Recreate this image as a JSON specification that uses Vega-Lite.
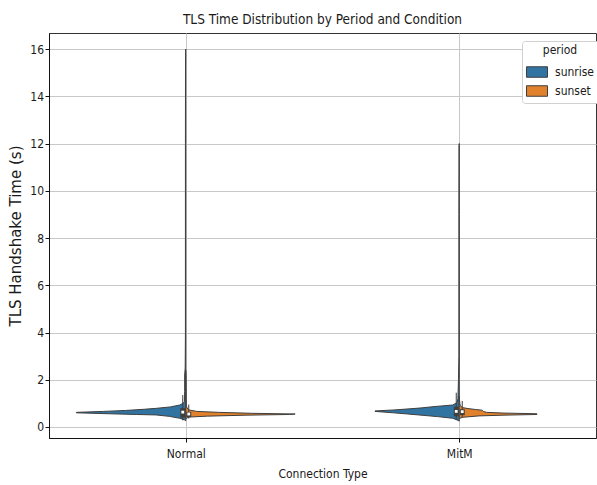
{
  "$schema": "https://vega.github.io/schema/vega-lite/v6.json",
  "width": 547,
  "height": 405,
  "autosize": {"type": "none"},
  "padding": {"left": 49, "top": 33, "right": 1, "bottom": 47},
  "background": "#ffffff",
  "title": {"text": "TLS Time Distribution by Period and Condition", "font": "DejaVu Sans Condensed, Liberation Sans", "fontSize": 13.5, "fontWeight": "normal", "color": "#1a1a1a", "offset": 7},
  "config": {
    "view": {"stroke": "#333333", "strokeWidth": 1},
    "axis": {"domainColor": "#111111", "tickColor": "#111111", "labelColor": "#1a1a1a", "titleColor": "#1a1a1a", "gridColor": "#c8c8c8", "gridWidth": 1, "tickSize": 4, "labelFont": "DejaVu Sans Condensed, Liberation Sans", "titleFont": "DejaVu Sans Condensed, Liberation Sans", "titleFontWeight": "normal", "labelFontSize": 12, "titleFontSize": 12},
    "axisY": {"labelPadding": 1.5, "titleFont": "DejaVu Sans", "titleFontSize": 15, "titlePadding": 6},
    "axisX": {"labelPadding": 6, "titlePadding": 9}
  },
  "datasets": {
    "density": [
      {"cond": "Normal", "period": "sunrise", "t": 0.26, "d": 0},
      {"cond": "Normal", "period": "sunrise", "t": 0.30, "d": 0.01},
      {"cond": "Normal", "period": "sunrise", "t": 0.37, "d": 0.055},
      {"cond": "Normal", "period": "sunrise", "t": 0.45, "d": 0.15},
      {"cond": "Normal", "period": "sunrise", "t": 0.51, "d": 0.27},
      {"cond": "Normal", "period": "sunrise", "t": 0.53, "d": 0.45},
      {"cond": "Normal", "period": "sunrise", "t": 0.56, "d": 0.7},
      {"cond": "Normal", "period": "sunrise", "t": 0.60, "d": 1.0},
      {"cond": "Normal", "period": "sunrise", "t": 0.62, "d": 1.0},
      {"cond": "Normal", "period": "sunrise", "t": 0.66, "d": 0.75},
      {"cond": "Normal", "period": "sunrise", "t": 0.70, "d": 0.55},
      {"cond": "Normal", "period": "sunrise", "t": 0.75, "d": 0.38},
      {"cond": "Normal", "period": "sunrise", "t": 0.79, "d": 0.27},
      {"cond": "Normal", "period": "sunrise", "t": 0.85, "d": 0.14},
      {"cond": "Normal", "period": "sunrise", "t": 0.93, "d": 0.055},
      {"cond": "Normal", "period": "sunrise", "t": 1.00, "d": 0.025},
      {"cond": "Normal", "period": "sunrise", "t": 1.07, "d": 0.012},
      {"cond": "Normal", "period": "sunrise", "t": 1.5, "d": 0.01},
      {"cond": "Normal", "period": "sunrise", "t": 2.2, "d": 0.01},
      {"cond": "Normal", "period": "sunrise", "t": 2.5, "d": 0.005},
      {"cond": "Normal", "period": "sunrise", "t": 4, "d": 0.003},
      {"cond": "Normal", "period": "sunrise", "t": 8, "d": 0.003},
      {"cond": "Normal", "period": "sunrise", "t": 12, "d": 0.003},
      {"cond": "Normal", "period": "sunrise", "t": 15.9, "d": 0.002},
      {"cond": "Normal", "period": "sunrise", "t": 16.0, "d": 0},
      {"cond": "Normal", "period": "sunset", "t": 0.36, "d": 0},
      {"cond": "Normal", "period": "sunset", "t": 0.42, "d": 0.03},
      {"cond": "Normal", "period": "sunset", "t": 0.46, "d": 0.2},
      {"cond": "Normal", "period": "sunset", "t": 0.50, "d": 0.55},
      {"cond": "Normal", "period": "sunset", "t": 0.53, "d": 0.95},
      {"cond": "Normal", "period": "sunset", "t": 0.55, "d": 1.0},
      {"cond": "Normal", "period": "sunset", "t": 0.58, "d": 0.6},
      {"cond": "Normal", "period": "sunset", "t": 0.62, "d": 0.3},
      {"cond": "Normal", "period": "sunset", "t": 0.66, "d": 0.1},
      {"cond": "Normal", "period": "sunset", "t": 0.72, "d": 0.03},
      {"cond": "Normal", "period": "sunset", "t": 0.80, "d": 0.012},
      {"cond": "Normal", "period": "sunset", "t": 0.9, "d": 0.006},
      {"cond": "Normal", "period": "sunset", "t": 1.2, "d": 0.004},
      {"cond": "Normal", "period": "sunset", "t": 2.0, "d": 0.003},
      {"cond": "Normal", "period": "sunset", "t": 2.4, "d": 0},
      {"cond": "MitM", "period": "sunrise", "t": 0.25, "d": 0},
      {"cond": "MitM", "period": "sunrise", "t": 0.30, "d": 0.02},
      {"cond": "MitM", "period": "sunrise", "t": 0.37, "d": 0.06},
      {"cond": "MitM", "period": "sunrise", "t": 0.44, "d": 0.2},
      {"cond": "MitM", "period": "sunrise", "t": 0.51, "d": 0.37},
      {"cond": "MitM", "period": "sunrise", "t": 0.55, "d": 0.47},
      {"cond": "MitM", "period": "sunrise", "t": 0.60, "d": 0.6},
      {"cond": "MitM", "period": "sunrise", "t": 0.66, "d": 0.77},
      {"cond": "MitM", "period": "sunrise", "t": 0.68, "d": 0.77},
      {"cond": "MitM", "period": "sunrise", "t": 0.72, "d": 0.6},
      {"cond": "MitM", "period": "sunrise", "t": 0.77, "d": 0.45},
      {"cond": "MitM", "period": "sunrise", "t": 0.81, "d": 0.34},
      {"cond": "MitM", "period": "sunrise", "t": 0.86, "d": 0.24},
      {"cond": "MitM", "period": "sunrise", "t": 0.93, "d": 0.06},
      {"cond": "MitM", "period": "sunrise", "t": 1.03, "d": 0.02},
      {"cond": "MitM", "period": "sunrise", "t": 1.2, "d": 0.012},
      {"cond": "MitM", "period": "sunrise", "t": 2.0, "d": 0.007},
      {"cond": "MitM", "period": "sunrise", "t": 3.0, "d": 0.003},
      {"cond": "MitM", "period": "sunrise", "t": 6, "d": 0.003},
      {"cond": "MitM", "period": "sunrise", "t": 9, "d": 0.003},
      {"cond": "MitM", "period": "sunrise", "t": 11.9, "d": 0.002},
      {"cond": "MitM", "period": "sunrise", "t": 12.0, "d": 0},
      {"cond": "MitM", "period": "sunset", "t": 0.36, "d": 0},
      {"cond": "MitM", "period": "sunset", "t": 0.41, "d": 0.03},
      {"cond": "MitM", "period": "sunset", "t": 0.47, "d": 0.18},
      {"cond": "MitM", "period": "sunset", "t": 0.50, "d": 0.4},
      {"cond": "MitM", "period": "sunset", "t": 0.53, "d": 0.71},
      {"cond": "MitM", "period": "sunset", "t": 0.56, "d": 0.71},
      {"cond": "MitM", "period": "sunset", "t": 0.59, "d": 0.4},
      {"cond": "MitM", "period": "sunset", "t": 0.62, "d": 0.25},
      {"cond": "MitM", "period": "sunset", "t": 0.66, "d": 0.22},
      {"cond": "MitM", "period": "sunset", "t": 0.71, "d": 0.21},
      {"cond": "MitM", "period": "sunset", "t": 0.74, "d": 0.15},
      {"cond": "MitM", "period": "sunset", "t": 0.78, "d": 0.08},
      {"cond": "MitM", "period": "sunset", "t": 0.82, "d": 0.03},
      {"cond": "MitM", "period": "sunset", "t": 0.9, "d": 0.01},
      {"cond": "MitM", "period": "sunset", "t": 1.0, "d": 0.005},
      {"cond": "MitM", "period": "sunset", "t": 1.3, "d": 0}
    ],
    "box": [
      {"cond": "Normal", "period": "sunrise", "q1": 0.40, "q3": 0.80, "med": 0.63, "wlo": 0.28, "whi": 1.35},
      {"cond": "Normal", "period": "sunset", "q1": 0.42, "q3": 0.64, "med": 0.55, "wlo": 0.36, "whi": 0.95},
      {"cond": "MitM", "period": "sunrise", "q1": 0.45, "q3": 0.86, "med": 0.66, "wlo": 0.30, "whi": 1.45},
      {"cond": "MitM", "period": "sunset", "q1": 0.50, "q3": 0.75, "med": 0.65, "wlo": 0.40, "whi": 1.10}
    ]
  },
  "layer": [
    {
      "data": {"name": "box"},
      "transform": [{"filter": "datum.period === 'sunrise'"}],
      "mark": {"type": "rule", "strokeWidth": 0, "opacity": 0},
      "encoding": {
        "x": {"field": "cond", "type": "nominal", "sort": ["Normal", "MitM"], "scale": {"type": "point", "domain": ["Normal", "MitM"], "padding": 0.5}, "axis": {"grid": true, "labelAngle": 0, "title": "Connection Type"}},
        "y": {"field": "wlo", "type": "quantitative", "scale": {"domain": [-0.466, 16.68], "nice": false, "zero": false}, "axis": {"values": [0, 2, 4, 6, 8, 10, 12, 14, 16], "grid": true, "title": "TLS Handshake Time (s)"}, "title": "TLS Handshake Time (s)"}
      }
    },
    {
      "data": {"name": "density"},
      "transform": [{"filter": "datum.cond === 'Normal' && datum.period === 'sunrise'"}],
      "mark": {"type": "area", "orient": "horizontal", "stroke": "#3f3f3f", "strokeWidth": 1, "strokeJoin": "round"},
      "encoding": {
        "y": {"field": "t", "type": "quantitative", "title": "TLS Handshake Time (s)"},
        "x": {"field": "d", "type": "quantitative", "scale": {"domain": [-3.75, 1.25], "reverse": true, "nice": false, "zero": false}, "axis": null},
        "x2": {"datum": 0},
        "color": {"field": "period", "type": "nominal", "scale": {"domain": ["sunrise", "sunset"], "range": ["#3274a1", "#e1812c"]}, "legend": {"title": "period", "orient": "none", "legendX": 473, "legendY": 8, "titleFont": "DejaVu Sans Condensed, Liberation Sans", "titleFontSize": 12, "titleFontWeight": "normal", "titleColor": "#1a1a1a", "titleAnchor": "middle", "titlePadding": 4, "labelFont": "DejaVu Sans Condensed, Liberation Sans", "labelFontSize": 12, "labelColor": "#1a1a1a", "labelOffset": 7, "fillColor": "#ffffff", "strokeColor": "#d0d0d0", "cornerRadius": 3, "padding": 4, "rowPadding": -1, "symbolType": "M-1,-0.5H1V0.5H-1Z", "symbolSize": 441, "symbolStrokeColor": "#3f3f3f", "symbolStrokeWidth": 1, "symbolOpacity": 1}}
      }
    },
    {
      "data": {"name": "density"},
      "transform": [{"filter": "datum.cond === 'Normal' && datum.period === 'sunset'"}],
      "mark": {"type": "area", "orient": "horizontal", "stroke": "#3f3f3f", "strokeWidth": 1, "strokeJoin": "round"},
      "encoding": {
        "y": {"field": "t", "type": "quantitative", "title": "TLS Handshake Time (s)"},
        "x": {"field": "d", "type": "quantitative", "scale": {"domain": [-1.25, 3.75], "nice": false, "zero": false}, "axis": null},
        "x2": {"datum": 0},
        "color": {"field": "period", "type": "nominal"}
      }
    },
    {
      "data": {"name": "density"},
      "transform": [{"filter": "datum.cond === 'MitM' && datum.period === 'sunrise'"}],
      "mark": {"type": "area", "orient": "horizontal", "stroke": "#3f3f3f", "strokeWidth": 1, "strokeJoin": "round"},
      "encoding": {
        "y": {"field": "t", "type": "quantitative", "title": "TLS Handshake Time (s)"},
        "x": {"field": "d", "type": "quantitative", "scale": {"domain": [-1.25, 3.75], "reverse": true, "nice": false, "zero": false}, "axis": null},
        "x2": {"datum": 0},
        "color": {"field": "period", "type": "nominal"}
      }
    },
    {
      "data": {"name": "density"},
      "transform": [{"filter": "datum.cond === 'MitM' && datum.period === 'sunset'"}],
      "mark": {"type": "area", "orient": "horizontal", "stroke": "#3f3f3f", "strokeWidth": 1, "strokeJoin": "round"},
      "encoding": {
        "y": {"field": "t", "type": "quantitative", "title": "TLS Handshake Time (s)"},
        "x": {"field": "d", "type": "quantitative", "scale": {"domain": [-3.75, 1.25], "nice": false, "zero": false}, "axis": null},
        "x2": {"datum": 0},
        "color": {"field": "period", "type": "nominal"}
      }
    },
    {
      "data": {"name": "box"},
      "transform": [{"filter": "datum.period === 'sunrise'"}],
      "mark": {"type": "rule", "color": "#3f3f3f", "strokeWidth": 1, "xOffset": -3},
      "encoding": {
        "x": {"field": "cond", "type": "nominal", "scale": {"type": "point", "domain": ["Normal", "MitM"], "padding": 0.5}, "axis": null},
        "y": {"field": "wlo", "type": "quantitative", "title": "TLS Handshake Time (s)"},
        "y2": {"field": "whi"}
      }
    },
    {
      "data": {"name": "box"},
      "transform": [{"filter": "datum.period === 'sunset'"}],
      "mark": {"type": "rule", "color": "#3f3f3f", "strokeWidth": 1, "xOffset": 3},
      "encoding": {
        "x": {"field": "cond", "type": "nominal", "scale": {"type": "point", "domain": ["Normal", "MitM"], "padding": 0.5}, "axis": null},
        "y": {"field": "wlo", "type": "quantitative", "title": "TLS Handshake Time (s)"},
        "y2": {"field": "whi"}
      }
    },
    {
      "data": {"name": "box"},
      "transform": [{"filter": "datum.period === 'sunrise'"}],
      "mark": {"type": "rule", "color": "#3f3f3f", "strokeWidth": 5, "xOffset": -3},
      "encoding": {
        "x": {"field": "cond", "type": "nominal", "scale": {"type": "point", "domain": ["Normal", "MitM"], "padding": 0.5}, "axis": null},
        "y": {"field": "q1", "type": "quantitative", "title": "TLS Handshake Time (s)"},
        "y2": {"field": "q3"}
      }
    },
    {
      "data": {"name": "box"},
      "transform": [{"filter": "datum.period === 'sunset'"}],
      "mark": {"type": "rule", "color": "#3f3f3f", "strokeWidth": 5, "xOffset": 3},
      "encoding": {
        "x": {"field": "cond", "type": "nominal", "scale": {"type": "point", "domain": ["Normal", "MitM"], "padding": 0.5}, "axis": null},
        "y": {"field": "q1", "type": "quantitative", "title": "TLS Handshake Time (s)"},
        "y2": {"field": "q3"}
      }
    },
    {
      "data": {"name": "box"},
      "transform": [{"filter": "datum.period === 'sunrise'"}],
      "mark": {"type": "point", "shape": "square", "filled": true, "color": "#ffffff", "opacity": 1, "size": 8, "xOffset": -3},
      "encoding": {
        "x": {"field": "cond", "type": "nominal", "scale": {"type": "point", "domain": ["Normal", "MitM"], "padding": 0.5}, "axis": null},
        "y": {"field": "med", "type": "quantitative", "title": "TLS Handshake Time (s)"}
      }
    },
    {
      "data": {"name": "box"},
      "transform": [{"filter": "datum.period === 'sunset'"}],
      "mark": {"type": "point", "shape": "square", "filled": true, "color": "#ffffff", "opacity": 1, "size": 8, "xOffset": 3},
      "encoding": {
        "x": {"field": "cond", "type": "nominal", "scale": {"type": "point", "domain": ["Normal", "MitM"], "padding": 0.5}, "axis": null},
        "y": {"field": "med", "type": "quantitative", "title": "TLS Handshake Time (s)"}
      }
    }
  ],
  "resolve": {"scale": {"x": "independent"}}
}
